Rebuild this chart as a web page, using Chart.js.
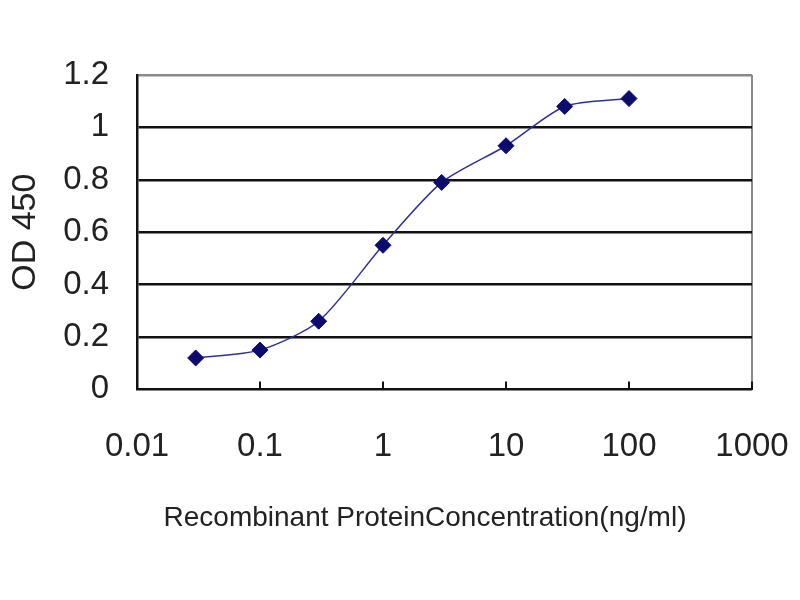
<!DOCTYPE html>
<html lang="en">
<head>
    <meta charset="UTF-8">
    <title>OD 450 standard curve</title>
    <script src="https://cdn.jsdelivr.net/npm/chart.js@4.4.1/dist/chart.umd.min.js"></script>
    <style>
        html, body { margin: 0; padding: 0; background: #fff; }
        canvas { display: block; }
    </style>
</head>
<body>

    <canvas id="odChart" width="800" height="600"></canvas>

    <script>
        // concentration (ng/ml) and measured OD 450
        const concentrations = [0.03, 0.1, 0.3, 1, 3, 10, 30, 100];
        const odValues = [0.12, 0.15, 0.26, 0.55, 0.79, 0.93, 1.08, 1.11];

        const xTicks = [0.01, 0.1, 1, 10, 100, 1000];
        const yTicks = [0, 0.2, 0.4, 0.6, 0.8, 1, 1.2];

        const xTitle = 'Recombinant ProteinConcentration(ng/ml)';
        const yTitle = 'OD 450';

        const fontFamily = '"Liberation Sans", Arial, sans-serif';

        const points = concentrations.map((c, i) => ({ x: c, y: odValues[i] }));

        const ctx = document.getElementById('odChart').getContext('2d');
        const odChart = new Chart(ctx, {
            type: 'line',
            data: {
                datasets: [{
                    data: points,
                    borderColor: '#30309c',
                    borderWidth: 1.5,
                    tension: 0.25,
                    pointStyle: 'rectRot',
                    pointRadius: 8,
                    pointBackgroundColor: '#0c0c6e',
                    pointBorderColor: '#0c0c6e',
                    pointBorderWidth: 1
                }]
            },
            options: {
                responsive: false,
                animation: false,
                layout: { padding: { left: 50, right: 0, top: 75, bottom: 0 } },
                plugins: {
                    legend: { display: false },
                    tooltip: { enabled: false },
                    title: {
                        display: true,
                        position: 'bottom',
                        text: xTitle,
                        color: '#222',
                        font: { family: fontFamily, size: 28, weight: 'normal' },
                        padding: { top: 0, bottom: 65 }
                    }
                },
                scales: {
                    x: {
                        type: 'logarithmic',
                        position: 'bottom',
                        min: 0.01,
                        max: 1000,
                        afterBuildTicks: (scale) => {
                            scale.ticks = xTicks.map(v => ({ value: v }));
                        },
                        afterFit: (scale) => {
                            scale.height = 112;
                            scale.paddingLeft = 0;
                            scale.paddingRight = 0;
                        },
                        ticks: {
                            color: '#222',
                            font: { family: fontFamily, size: 33 },
                            padding: 46,
                            maxRotation: 0,
                            autoSkip: false,
                            callback: (v) => String(v)
                        },
                        grid: {
                            color: (c) => c.tick && c.tick.value === 1000 ? '#8a8a8a' : 'rgba(0,0,0,0)',
                            lineWidth: 2,
                            tickColor: '#111',
                            tickWidth: 2,
                            tickLength: -8
                        },
                        border: { color: '#111', width: 2 }
                    },
                    y: {
                        position: 'left',
                        min: 0,
                        max: 1.2,
                        afterBuildTicks: (scale) => {
                            scale.ticks = yTicks.map(v => ({ value: v }));
                        },
                        afterFit: (scale) => {
                            scale.width = 87;
                            scale.paddingTop = 0;
                            scale.paddingBottom = 0;
                        },
                        ticks: {
                            color: '#222',
                            font: { family: fontFamily, size: 33 },
                            padding: 28,
                            callback: (v) => String(+v.toFixed(1))
                        },
                        grid: {
                            color: (c) => c.tick && c.tick.value === 1.2 ? '#8a8a8a' : '#111',
                            lineWidth: 2.5,
                            drawTicks: false
                        },
                        border: { color: '#111', width: 2.5 },
                        title: {
                            display: true,
                            text: yTitle,
                            color: '#222',
                            font: { family: fontFamily, size: 34 },
                            padding: { top: -45, bottom: 0 }
                        }
                    },
                    // empty right axis, only reserves the right margin
                    yRight: {
                        position: 'right',
                        display: true,
                        ticks: { display: false },
                        grid: { display: false, drawOnChartArea: false },
                        border: { display: false },
                        afterFit: (scale) => { scale.width = 48; }
                    }
                }
            }
        });
    </script>

</body>
</html>
